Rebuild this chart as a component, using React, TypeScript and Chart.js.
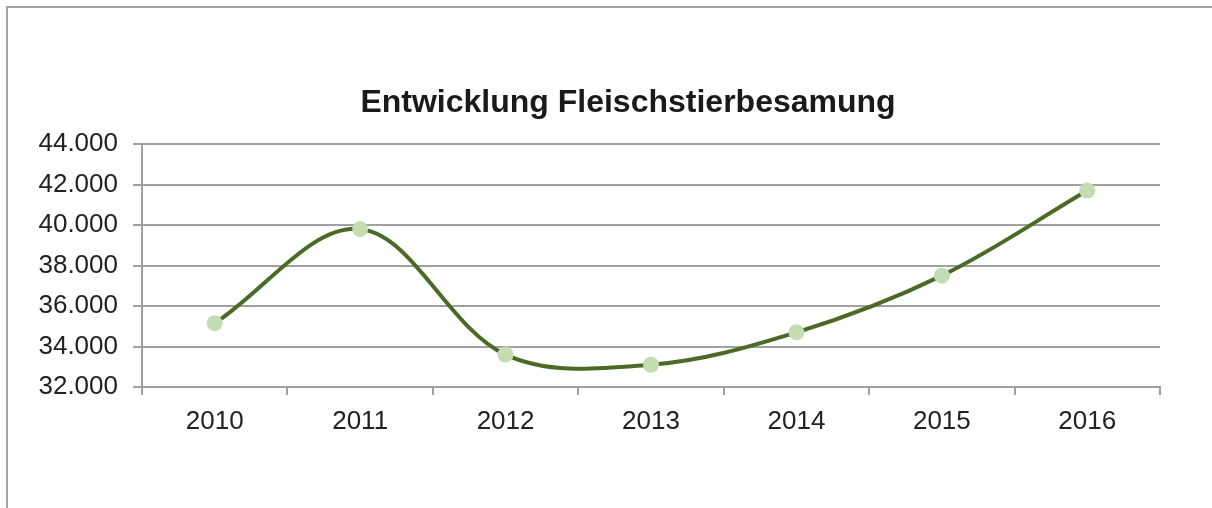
import React, { useEffect, useRef } from "react";
import { Chart, registerables } from "chart.js";

Chart.register(...registerables);

const categories = ["2010", "2011", "2012", "2013", "2014", "2015", "2016"];
const values = [35150, 39800, 33600, 33100, 34700, 37500, 41700];
const chartTitle = "Entwicklung Fleischstierbesamung";
const yMin = 32000;
const yMax = 44000;
const yStep = 2000;

const fmt = (v: number) => {
  const s = Math.round(v).toString();
  return s.replace(/\B(?=(\d{3})+(?!\d))/g, ".");
};

const titlePlugin = {
  id: "centeredTitle",
  afterDraw(chart: any) {
    const ctx = chart.ctx;
    ctx.save();
    ctx.font = "bold 32px 'Liberation Sans', Arial, sans-serif";
    ctx.fillStyle = "#1a1a1a";
    ctx.textAlign = "center";
    ctx.textBaseline = "middle";
    ctx.fillText(chartTitle, 628, 103);
    ctx.restore();
  },
};

export default function App() {
  const ref = useRef<HTMLCanvasElement | null>(null);

  useEffect(() => {
    if (!ref.current) return;
    const chart = new Chart(ref.current, {
      type: "line",
      data: {
        labels: categories,
        datasets: [
          {
            data: values,
            borderColor: "#4a6a26",
            borderWidth: 4,
            tension: 0.35,
            pointRadius: 8,
            pointBackgroundColor: "#c4dcb2",
            pointBorderWidth: 0,
            pointBorderColor: "#c4dcb2",
          },
        ],
      },
      plugins: [titlePlugin],
      options: {
        animation: false,
        responsive: false,
        maintainAspectRatio: false,
        layout: { padding: { left: 0, right: 52, top: 144, bottom: 0 } },
        plugins: {
          legend: { display: false },
          tooltip: { enabled: false },
          title: { display: false },
        },
        scales: {
          x: {
            type: "category",
            offset: true,
            grid: {
              offset: true,
              drawOnChartArea: false,
              drawTicks: true,
              tickLength: 8,
              color: "#a0a0a0",
              lineWidth: 2,
            },
            border: { display: true, color: "#a0a0a0", width: 2 },
            ticks: {
              color: "#222222",
              padding: 11,
              font: { family: "'Liberation Sans', Arial, sans-serif", size: 26 },
              maxRotation: 0,
            },
            afterFit: (scale: any) => {
              scale.height = 121;
            },
          },
          y: {
            min: yMin,
            max: yMax,
            grid: {
              color: "#a0a0a0",
              lineWidth: 2,
              tickLength: 9,
            },
            border: { display: true, color: "#a0a0a0", width: 2 },
            ticks: {
              stepSize: yStep,
              color: "#222222",
              padding: 15,
              font: { family: "'Liberation Sans', Arial, sans-serif", size: 26 },
              callback: (v: any) => fmt(Number(v)),
            },
            afterFit: (scale: any) => {
              scale.width = 142;
            },
          },
        },
      },
    });
    return () => chart.destroy();
  }, []);

  return (
    <div style={{ position: "absolute", left: 0, top: 0, width: 1212, height: 508, background: "#fff", overflow: "hidden" }}>
      <div
        style={{
          position: "absolute",
          left: 6,
          top: 6,
          width: 1300,
          height: 600,
          borderLeft: "2px solid #a3a3a3",
          borderTop: "2px solid #a3a3a3",
        }}
      />
      <canvas ref={ref} width={1212} height={508} style={{ position: "absolute", left: 0, top: 0, width: 1212, height: 508 }} />
    </div>
  );
}
